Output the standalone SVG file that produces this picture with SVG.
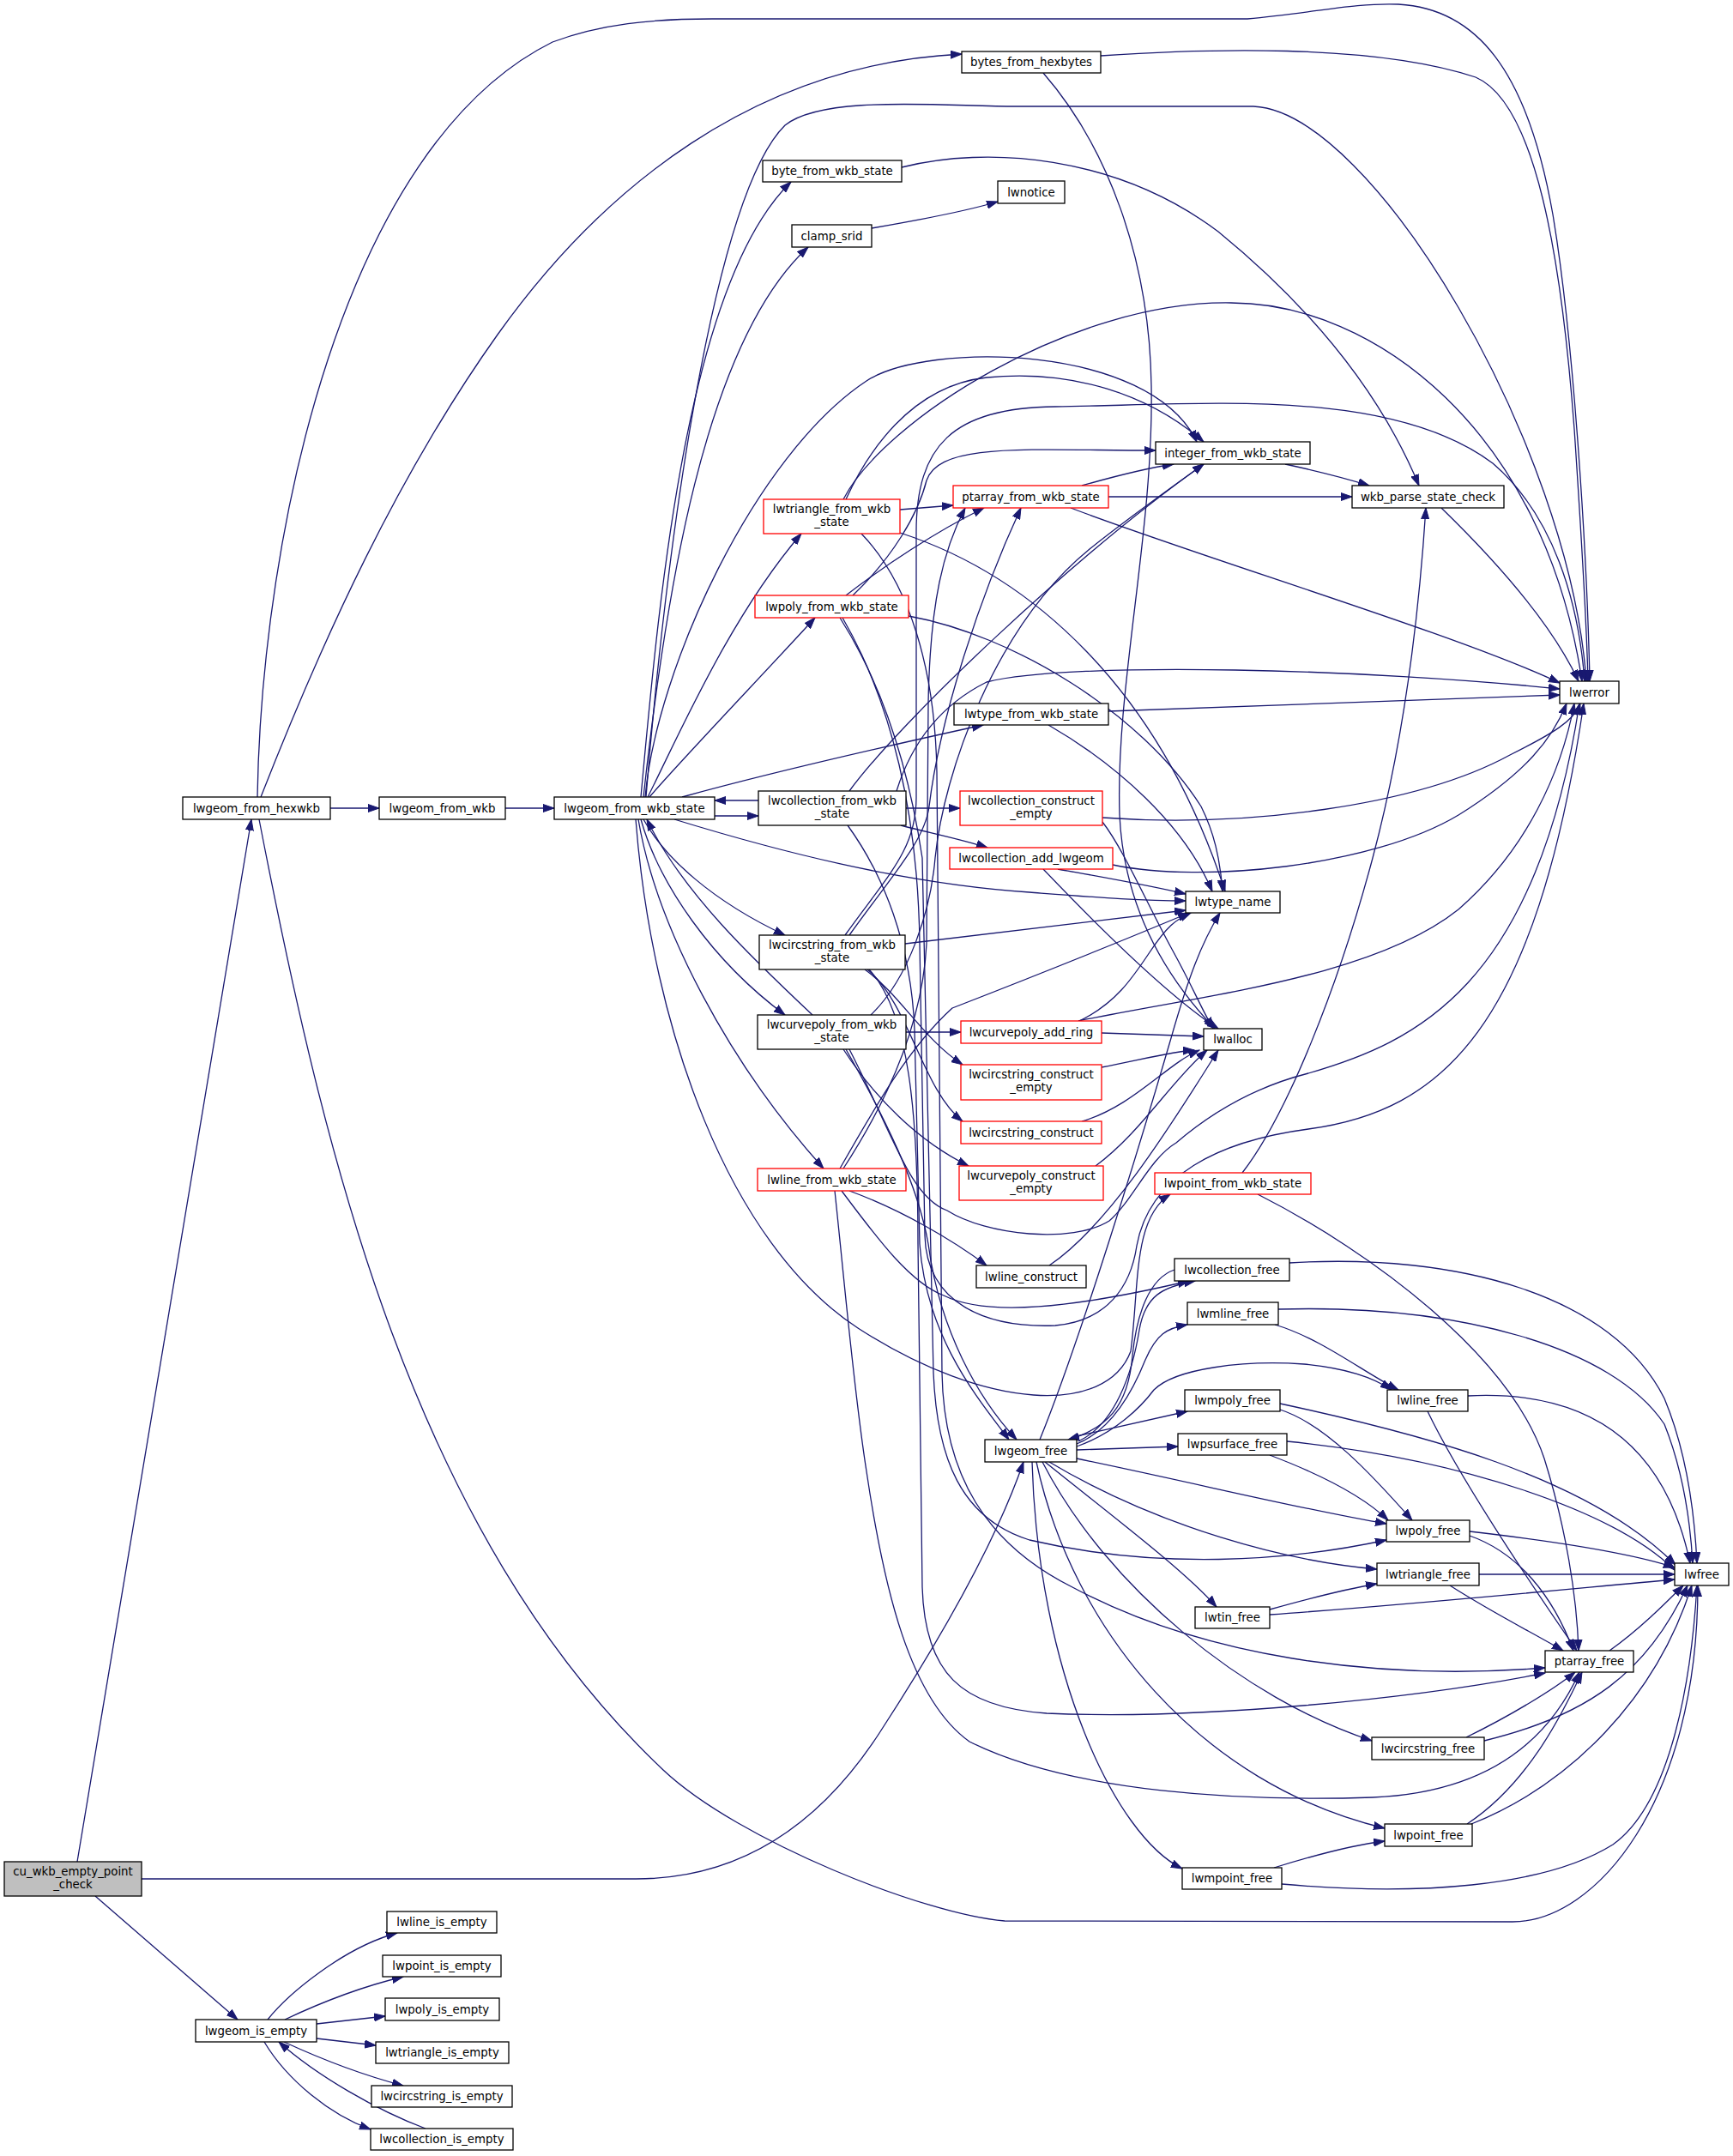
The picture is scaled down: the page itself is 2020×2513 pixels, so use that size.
<svg xmlns="http://www.w3.org/2000/svg" width="2020" height="2513" viewBox="0 0 2020 2513">
<defs>
<marker id="a" markerWidth="14" markerHeight="10" refX="13" refY="5" orient="auto" markerUnits="userSpaceOnUse"><path d="M0,0.5 L13,5 L0,9.5 z" fill="#191970" stroke="#191970" stroke-width="1"/></marker>
<style>
.e path{fill:none;stroke:#191970;stroke-width:1.3;marker-end:url(#a)}
.n rect{fill:#fff;stroke:#000;stroke-width:1.3}
.r rect{stroke:#f00}
.root rect{fill:#bfbfbf}
text{font-family:"DejaVu Sans","Liberation Sans",sans-serif;font-size:13.33px;text-anchor:middle;fill:#000}
</style>
</defs>
<rect x="0" y="0" width="2020" height="2513" fill="#fff"/>
<g id="edges" class="e">
<path d="M90,2170 L293,955"/>
<path d="M165,2190 L741,2190 C870,2190 960,2120 1025,2020 C1090,1920 1160,1800 1193,1704"/>
<path d="M111,2210 L277,2354"/>
<path d="M312,2354 C335,2325 400,2270 463,2253"/>
<path d="M332,2354 C370,2336 420,2316 470,2304"/>
<path d="M369,2359 L449,2350"/>
<path d="M369,2376 L438,2384"/>
<path d="M331,2380 C370,2398 420,2418 470,2431"/>
<path d="M308,2380 C335,2425 385,2465 432,2482"/>
<path d="M496,2481 C440,2460 370,2420 325,2380"/>
<path d="M385,942 L442,942"/>
<path d="M304,929 C377,743 464,553 580,390 C702,219 880,75 1121,63"/>
<path d="M300,929 C305,620 400,170 644,49 C700,28 760,22 830,22 L1454,22 C1530,15 1580,3 1630,5 C1720,10 1780,80 1810,250 C1835,400 1850,650 1853,794"/>
<path d="M302,955 C378,1347 481,1787 773,2063 C861,2146 1080,2232 1171,2239 L1763,2240 C1860,2240 1979,2100 1979,1848"/>
<path d="M589,942 L646,942"/>
<path d="M747,929 C768,700 800,330 922,212"/>
<path d="M750,929 C775,700 820,400 942,288"/>
<path d="M753,929 C775,650 830,230 915,146 C960,110 1100,124 1184,124 L1461,124 C1600,130 1830,520 1849,794"/>
<path d="M755,929 C790,860 850,720 934,622"/>
<path d="M757,929 C790,890 900,775 950,720"/>
<path d="M752,929 C765,780 880,530 1010,444 C1080,398 1340,400 1395,515"/>
<path d="M833,951 L884,951"/>
<path d="M884,933 L833,933"/>
<path d="M750,955 C775,1000 830,1050 915,1090"/>
<path d="M747,955 C768,1030 830,1120 915,1183"/>
<path d="M947,1183 C880,1120 795,1040 754,955"/>
<path d="M744,955 C765,1080 850,1240 960,1362"/>
<path d="M786,955 C900,990 1050,1030 1200,1040 C1280,1046 1330,1050 1382,1050"/>
<path d="M795,929 C900,900 1050,866 1146,845"/>
<path d="M741,955 C760,1200 850,1450 1000,1548 C1150,1645 1290,1650 1318,1575 C1328,1500 1320,1420 1364,1392"/>
<path d="M1049,594 L1111,589"/>
<path d="M986,582 C1010,530 1060,450 1150,440 C1250,430 1340,460 1403,515"/>
<path d="M983,582 C1030,490 1250,350 1435,353 C1600,353 1800,500 1844,794"/>
<path d="M1049,621 C1200,670 1350,800 1428,1039"/>
<path d="M1004,622 C1060,680 1090,780 1092,900 L1098,1600 C1100,1720 1150,1800 1250,1850 C1400,1930 1600,1960 1801,1944"/>
<path d="M986,694 C1030,660 1090,620 1147,592"/>
<path d="M994,694 C1040,650 1070,600 1080,560 C1095,515 1200,525 1347,525"/>
<path d="M1059,718 C1180,740 1330,830 1400,940 C1415,970 1422,1000 1425,1039"/>
<path d="M979,720 C1030,800 1060,900 1075,1000 L1088,1600 C1092,1700 1120,1770 1200,1795 C1350,1830 1500,1820 1616,1795"/>
<path d="M982,720 C1040,820 1070,950 1072,1100 L1078,1440 C1080,1520 1150,1548 1230,1545 C1290,1540 1318,1500 1325,1452 C1340,1370 1420,1330 1525,1316 C1680,1295 1790,1200 1846,820"/>
<path d="M1056,942 L1119,942"/>
<path d="M1050,962 C1080,970 1120,978 1151,988"/>
<path d="M990,922 C1050,840 1250,650 1403,541"/>
<path d="M1045,922 C1055,890 1080,830 1150,795 C1250,770 1600,780 1818,803"/>
<path d="M988,962 C1030,1020 1062,1100 1066,1200 L1072,1450 C1080,1560 1140,1630 1176,1678"/>
<path d="M990,1090 C1040,1020 1078,980 1083,940 C1095,840 1140,700 1190,592"/>
<path d="M985,1090 C1035,1020 1068,990 1068,930 L1068,620 C1068,520 1110,475 1230,474 C1400,472 1620,450 1740,540 C1810,600 1840,700 1847,794"/>
<path d="M1008,1130 C1050,1160 1075,1210 1122,1241"/>
<path d="M1011,1130 C1060,1170 1075,1270 1122,1307"/>
<path d="M1055,1100 L1382,1061"/>
<path d="M1013,1130 C1060,1180 1070,1300 1070,1450 L1075,1850 C1078,1950 1120,1990 1220,1997 C1400,2005 1650,1980 1801,1950"/>
<path d="M1056,1203 L1120,1203"/>
<path d="M983,1223 C1020,1280 1070,1330 1129,1359"/>
<path d="M986,1223 C1030,1300 1070,1380 1082,1450 C1095,1550 1140,1630 1185,1678"/>
<path d="M1015,1183 C1060,1140 1085,1060 1090,1000 C1100,900 1160,730 1270,640 C1320,600 1370,565 1403,541"/>
<path d="M990,1223 C1040,1320 1060,1395 1104,1411 C1150,1440 1250,1450 1293,1423 C1320,1400 1340,1350 1371,1332 C1420,1290 1470,1265 1525,1251 C1650,1215 1790,1150 1841,820"/>
<path d="M983,1362 C1030,1290 1075,1200 1080,1100 L1082,820 C1084,700 1100,640 1125,592"/>
<path d="M979,1362 C1020,1290 1060,1220 1110,1175 C1200,1140 1300,1100 1386,1064"/>
<path d="M990,1388 C1050,1410 1110,1445 1150,1475"/>
<path d="M981,1388 C1020,1440 1060,1495 1100,1510 C1150,1535 1250,1525 1386,1493"/>
<path d="M973,1388 C985,1500 995,1620 1010,1715 C1030,1850 1060,1980 1130,2030 C1250,2090 1450,2100 1600,2095 C1720,2090 1800,2040 1841,1949"/>
<path d="M1216,85 C1290,170 1340,300 1342,450 C1345,620 1300,800 1305,950 C1310,1060 1360,1140 1416,1199"/>
<path d="M1283,65 C1400,57 1600,50 1720,90 C1790,120 1820,300 1835,500 C1845,650 1850,750 1851,794"/>
<path d="M1051,195 C1150,170 1300,180 1420,270 C1530,360 1610,460 1654,566"/>
<path d="M1016,266 C1080,255 1130,245 1163,235"/>
<path d="M1498,541 C1540,550 1570,558 1596,566"/>
<path d="M1448,1367 C1500,1300 1560,1150 1600,1000 C1640,850 1655,700 1662,592"/>
<path d="M1466,1392 C1600,1460 1760,1580 1800,1700 C1825,1780 1838,1860 1840,1924"/>
<path d="M1261,566 C1300,555 1340,545 1368,541"/>
<path d="M1292,579 L1576,579"/>
<path d="M1248,592 C1400,650 1700,740 1818,796"/>
<path d="M1292,829 C1500,822 1700,815 1818,810"/>
<path d="M1222,845 C1300,890 1380,960 1413,1039"/>
<path d="M1285,958 C1310,990 1340,1060 1368,1110 C1390,1150 1400,1175 1414,1199"/>
<path d="M1285,953 C1450,965 1650,940 1760,880 C1810,855 1835,840 1842,820"/>
<path d="M1233,1013 C1300,1025 1340,1032 1382,1042"/>
<path d="M1297,1008 C1400,1030 1600,1010 1700,950 C1780,900 1810,860 1826,820"/>
<path d="M1216,1013 C1280,1080 1360,1160 1420,1199"/>
<path d="M1284,1204 L1403,1208"/>
<path d="M1257,1190 C1400,1160 1600,1140 1700,1060 C1780,990 1820,900 1835,820"/>
<path d="M1258,1190 C1300,1170 1320,1140 1340,1110 C1360,1080 1370,1072 1388,1064"/>
<path d="M1284,1244 C1330,1235 1370,1225 1392,1224"/>
<path d="M1261,1307 C1320,1290 1360,1240 1398,1224"/>
<path d="M1277,1359 C1330,1320 1365,1260 1407,1224"/>
<path d="M1223,1475 C1290,1430 1360,1320 1420,1224"/>
<path d="M1257,1680 C1300,1660 1320,1600 1328,1550 C1335,1510 1355,1500 1393,1493"/>
<path d="M1255,1683 C1300,1665 1325,1610 1335,1585 C1348,1555 1360,1548 1384,1544"/>
<path d="M1255,1674 L1384,1645"/>
<path d="M1255,1690 L1373,1686"/>
<path d="M1218,1704 C1300,1770 1380,1830 1418,1873"/>
<path d="M1203,1704 C1210,1950 1300,2140 1378,2178"/>
<path d="M1255,1686 C1300,1670 1330,1640 1345,1620 C1370,1595 1450,1585 1520,1590 C1570,1595 1600,1605 1622,1620"/>
<path d="M1255,1700 C1400,1730 1520,1760 1616,1776"/>
<path d="M1223,1704 C1350,1780 1500,1820 1605,1829"/>
<path d="M1215,1704 C1290,1850 1450,1980 1599,2029"/>
<path d="M1208,1704 C1250,1900 1400,2080 1614,2131"/>
<path d="M1212,1678 C1260,1560 1330,1330 1365,1210 C1385,1140 1400,1100 1422,1064"/>
<path d="M1369,1480 C1340,1490 1325,1530 1320,1580 C1315,1640 1290,1665 1245,1678"/>
<path d="M1503,1472 C1700,1460 1880,1510 1940,1630 C1965,1690 1975,1760 1978,1822"/>
<path d="M1486,1544 C1540,1560 1590,1600 1630,1620"/>
<path d="M1490,1526 C1700,1520 1880,1570 1940,1660 C1960,1710 1970,1770 1973,1822"/>
<path d="M1492,1643 C1545,1660 1600,1720 1646,1772"/>
<path d="M1492,1636 C1650,1670 1850,1720 1953,1824"/>
<path d="M1480,1696 C1530,1715 1585,1740 1618,1772"/>
<path d="M1500,1680 C1700,1700 1880,1760 1952,1830"/>
<path d="M1480,1876 C1530,1862 1570,1852 1605,1846"/>
<path d="M1480,1882 C1650,1870 1850,1850 1952,1841"/>
<path d="M1485,2177 C1540,2160 1580,2150 1614,2146"/>
<path d="M1494,2196 C1650,2210 1800,2200 1880,2150 C1950,2100 1972,1950 1978,1848"/>
<path d="M1664,1645 C1700,1720 1780,1840 1838,1924"/>
<path d="M1711,1627 C1850,1620 1940,1680 1970,1822"/>
<path d="M1713,1790 C1770,1810 1810,1860 1834,1924"/>
<path d="M1713,1785 C1800,1795 1900,1810 1952,1827"/>
<path d="M1690,1848 C1740,1880 1790,1905 1822,1924"/>
<path d="M1724,1835 L1952,1835"/>
<path d="M1709,2025 C1760,2000 1810,1970 1836,1949"/>
<path d="M1730,2029 C1850,2000 1920,1950 1967,1848"/>
<path d="M1710,2126 C1780,2080 1820,2000 1844,1949"/>
<path d="M1715,2126 C1830,2080 1930,1980 1972,1848"/>
<path d="M1876,1924 C1910,1900 1940,1870 1962,1848"/>
<path d="M1680,592 C1750,660 1810,730 1840,794"/>
</g>
<g id="n_cu_wkb_empty_point_check" class="n root"><rect x="5" y="2170" width="160" height="40"/><text x="85" y="2185.5">cu_wkb_empty_point</text><text x="85" y="2200.5">_check</text></g>
<g id="n_lwgeom_from_hexwkb" class="n"><rect x="213" y="929" width="172" height="26"/><text x="299" y="946.5">lwgeom_from_hexwkb</text></g>
<g id="n_lwgeom_is_empty" class="n"><rect x="228" y="2354" width="141" height="26"/><text x="298.5" y="2371.5">lwgeom_is_empty</text></g>
<g id="n_lwgeom_from_wkb" class="n"><rect x="442" y="929" width="147" height="26"/><text x="515.5" y="946.5">lwgeom_from_wkb</text></g>
<g id="n_lwline_is_empty" class="n"><rect x="451" y="2228" width="128" height="25"/><text x="515" y="2245">lwline_is_empty</text></g>
<g id="n_lwpoint_is_empty" class="n"><rect x="446" y="2279" width="138" height="25"/><text x="515" y="2296">lwpoint_is_empty</text></g>
<g id="n_lwpoly_is_empty" class="n"><rect x="449" y="2329" width="133" height="26"/><text x="515.5" y="2346.5">lwpoly_is_empty</text></g>
<g id="n_lwtriangle_is_empty" class="n"><rect x="438" y="2380" width="155" height="25"/><text x="515.5" y="2397">lwtriangle_is_empty</text></g>
<g id="n_lwcircstring_is_empty" class="n"><rect x="433" y="2431" width="164" height="25"/><text x="515" y="2448">lwcircstring_is_empty</text></g>
<g id="n_lwcollection_is_empty" class="n"><rect x="432" y="2481" width="166" height="25"/><text x="515" y="2498">lwcollection_is_empty</text></g>
<g id="n_lwgeom_from_wkb_state" class="n"><rect x="646" y="929" width="187" height="26"/><text x="739.5" y="946.5">lwgeom_from_wkb_state</text></g>
<g id="n_byte_from_wkb_state" class="n"><rect x="889" y="187" width="162" height="25"/><text x="970" y="204">byte_from_wkb_state</text></g>
<g id="n_clamp_srid" class="n"><rect x="923" y="262" width="93" height="26"/><text x="969.5" y="279.5">clamp_srid</text></g>
<g id="n_lwtriangle_from_wkb_state" class="n r"><rect x="890" y="582" width="159" height="40"/><text x="969.5" y="597.5">lwtriangle_from_wkb</text><text x="969.5" y="612.5">_state</text></g>
<g id="n_lwpoly_from_wkb_state" class="n r"><rect x="880" y="694" width="179" height="26"/><text x="969.5" y="711.5">lwpoly_from_wkb_state</text></g>
<g id="n_lwcollection_from_wkb_state" class="n"><rect x="884" y="922" width="172" height="40"/><text x="970" y="937.5">lwcollection_from_wkb</text><text x="970" y="952.5">_state</text></g>
<g id="n_lwcircstring_from_wkb_state" class="n"><rect x="885" y="1090" width="170" height="40"/><text x="970" y="1105.5">lwcircstring_from_wkb</text><text x="970" y="1120.5">_state</text></g>
<g id="n_lwcurvepoly_from_wkb_state" class="n"><rect x="883" y="1183" width="173" height="40"/><text x="969.5" y="1198.5">lwcurvepoly_from_wkb</text><text x="969.5" y="1213.5">_state</text></g>
<g id="n_lwline_from_wkb_state" class="n r"><rect x="883" y="1362" width="173" height="26"/><text x="969.5" y="1379.5">lwline_from_wkb_state</text></g>
<g id="n_bytes_from_hexbytes" class="n"><rect x="1121" y="60" width="162" height="25"/><text x="1202" y="77">bytes_from_hexbytes</text></g>
<g id="n_lwnotice" class="n"><rect x="1163" y="211" width="78" height="26"/><text x="1202" y="228.5">lwnotice</text></g>
<g id="n_ptarray_from_wkb_state" class="n r"><rect x="1111" y="566" width="181" height="26"/><text x="1201.5" y="583.5">ptarray_from_wkb_state</text></g>
<g id="n_lwtype_from_wkb_state" class="n"><rect x="1112" y="820" width="180" height="25"/><text x="1202" y="837">lwtype_from_wkb_state</text></g>
<g id="n_lwcollection_construct_empty" class="n r"><rect x="1119" y="922" width="166" height="40"/><text x="1202" y="937.5">lwcollection_construct</text><text x="1202" y="952.5">_empty</text></g>
<g id="n_lwcollection_add_lwgeom" class="n r"><rect x="1107" y="988" width="190" height="25"/><text x="1202" y="1005">lwcollection_add_lwgeom</text></g>
<g id="n_lwcurvepoly_add_ring" class="n r"><rect x="1120" y="1190" width="164" height="26"/><text x="1202" y="1207.5">lwcurvepoly_add_ring</text></g>
<g id="n_lwcircstring_construct_empty" class="n r"><rect x="1120" y="1241" width="164" height="41"/><text x="1202" y="1256.5">lwcircstring_construct</text><text x="1202" y="1271.5">_empty</text></g>
<g id="n_lwcircstring_construct" class="n r"><rect x="1120" y="1307" width="164" height="26"/><text x="1202" y="1324.5">lwcircstring_construct</text></g>
<g id="n_lwcurvepoly_construct_empty" class="n r"><rect x="1118" y="1359" width="168" height="40"/><text x="1202" y="1374.5">lwcurvepoly_construct</text><text x="1202" y="1389.5">_empty</text></g>
<g id="n_lwline_construct" class="n"><rect x="1138" y="1475" width="128" height="26"/><text x="1202" y="1492.5">lwline_construct</text></g>
<g id="n_lwgeom_free" class="n"><rect x="1148" y="1678" width="107" height="26"/><text x="1201.5" y="1695.5">lwgeom_free</text></g>
<g id="n_integer_from_wkb_state" class="n"><rect x="1347" y="515" width="180" height="26"/><text x="1437" y="532.5">integer_from_wkb_state</text></g>
<g id="n_lwtype_name" class="n"><rect x="1382" y="1039" width="110" height="25"/><text x="1437" y="1056">lwtype_name</text></g>
<g id="n_lwalloc" class="n"><rect x="1403" y="1199" width="68" height="25"/><text x="1437" y="1216">lwalloc</text></g>
<g id="n_lwpoint_from_wkb_state" class="n r"><rect x="1346" y="1367" width="182" height="25"/><text x="1437" y="1384">lwpoint_from_wkb_state</text></g>
<g id="n_lwcollection_free" class="n"><rect x="1369" y="1467" width="134" height="26"/><text x="1436" y="1484.5">lwcollection_free</text></g>
<g id="n_lwmline_free" class="n"><rect x="1384" y="1518" width="106" height="26"/><text x="1437" y="1535.5">lwmline_free</text></g>
<g id="n_lwmpoly_free" class="n"><rect x="1381" y="1620" width="111" height="25"/><text x="1436.5" y="1637">lwmpoly_free</text></g>
<g id="n_lwpsurface_free" class="n"><rect x="1373" y="1671" width="127" height="25"/><text x="1436.5" y="1688">lwpsurface_free</text></g>
<g id="n_lwtin_free" class="n"><rect x="1393" y="1873" width="87" height="25"/><text x="1436.5" y="1890">lwtin_free</text></g>
<g id="n_lwmpoint_free" class="n"><rect x="1378" y="2177" width="116" height="25"/><text x="1436" y="2194">lwmpoint_free</text></g>
<g id="n_wkb_parse_state_check" class="n"><rect x="1576" y="566" width="177" height="26"/><text x="1664.5" y="583.5">wkb_parse_state_check</text></g>
<g id="n_lwline_free" class="n"><rect x="1617" y="1620" width="94" height="25"/><text x="1664" y="1637">lwline_free</text></g>
<g id="n_lwpoly_free" class="n"><rect x="1616" y="1772" width="97" height="25"/><text x="1664.5" y="1789">lwpoly_free</text></g>
<g id="n_lwtriangle_free" class="n"><rect x="1605" y="1822" width="119" height="26"/><text x="1664.5" y="1839.5">lwtriangle_free</text></g>
<g id="n_lwcircstring_free" class="n"><rect x="1599" y="2025" width="131" height="26"/><text x="1664.5" y="2042.5">lwcircstring_free</text></g>
<g id="n_lwpoint_free" class="n"><rect x="1614" y="2126" width="102" height="26"/><text x="1665" y="2143.5">lwpoint_free</text></g>
<g id="n_lwerror" class="n"><rect x="1818" y="794" width="69" height="26"/><text x="1852.5" y="811.5">lwerror</text></g>
<g id="n_ptarray_free" class="n"><rect x="1801" y="1924" width="103" height="25"/><text x="1852.5" y="1941">ptarray_free</text></g>
<g id="n_lwfree" class="n"><rect x="1952" y="1822" width="63" height="26"/><text x="1983.5" y="1839.5">lwfree</text></g>
</svg>
